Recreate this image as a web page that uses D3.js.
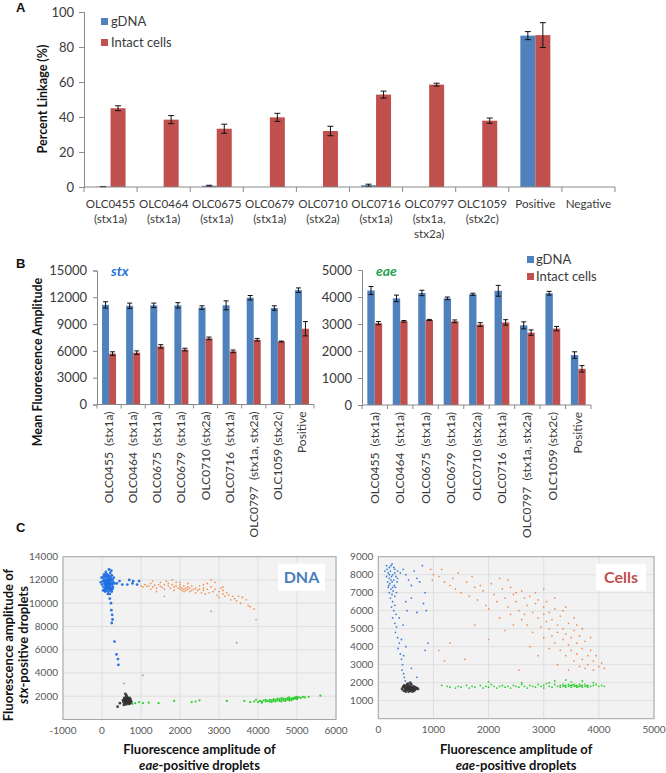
<!DOCTYPE html>
<html><head><meta charset="utf-8">
<script src="https://cdn.jsdelivr.net/npm/d3@7"></script>
<style>
html,body{margin:0;padding:0;background:#fff;}
text{font-family:Lato,"Open Sans",sans-serif;}
</style></head>
<body>
<script>
// ---------------- DATA ----------------
// Panel A
const catsA = ["OLC0455|(stx1a)","OLC0464|(stx1a)","OLC0675|(stx1a)","OLC0679|(stx1a)","OLC0710|(stx2a)","OLC0716|(stx1a)","OLC0797|(stx1a,|stx2a)","OLC1059|(stx2c)","Positive","Negative"];
const gdnaA    = [0.2, 0, 0.7, 0, 0, 1.0, 0, 0, 86.5, 0];
const gdnaErrA = [0.1, 0, 0.3, 0, 0, 0.6, 0, 0, 2.3, 0];
const cellsA    = [45, 38.5, 33.3, 39.8, 32, 52.8, 58.5, 37.9, 86.8, 0];
const cellsErrA = [1.4, 2.3, 2.6, 2.3, 2.7, 2.0, 0.8, 1.5, 7.1, 0];
const ticksA = [0, 20, 40, 60, 80, 100];
const seriesNames = ["gDNA", "Intact cells"];

// Panel B
const catsB = ["OLC0455  (stx1a)","OLC0464  (stx1a)","OLC0675  (stx1a)","OLC0679  (stx1a)","OLC0710 (stx2a)","OLC0716  (stx1a)","OLC0797  (stx1a, stx2a)","OLC1059 (stx2c)","Positive"];
const stxG    = [11150, 11050, 11100, 11100, 10850, 11100, 11950, 10800, 12800];
const stxGErr = [350, 300, 250, 300, 200, 500, 250, 250, 250];
const stxC    = [5700, 5800, 6500, 6150, 7400, 5950, 7250, 7050, 8480];
const stxCErr = [200, 200, 200, 150, 150, 150, 150, 50, 800];
const ticksStx = [0, 3000, 6000, 9000, 12000, 15000];
const eaeG    = [4240, 3950, 4150, 3950, 4100, 4230, 2950, 4140, 1850];
const eaeGErr = [150, 120, 100, 50, 40, 200, 130, 70, 120];
const eaeC    = [3030, 3100, 3150, 3100, 2980, 3060, 2680, 2830, 1340];
const eaeCErr = [60, 30, 20, 50, 70, 100, 100, 80, 120];
const ticksEae = [0, 1000, 2000, 3000, 4000, 5000];

// Panel C (eae amplitude, stx amplitude)
const dnaBlue = [[0,11600],[20,11900],[40,11400],[50,12100],[60,11700],[70,11200],[80,12300],[90,11800],[100,11500],[100,12000],[110,11100],[120,12500],[120,11700],[130,11300],[140,12200],[140,11900],[150,11600],[160,11000],[160,12400],[170,11800],[180,11400],[180,12100],[190,11700],[200,11200],[200,12000],[210,12600],[210,11500],[220,11900],[230,11300],[230,12200],[240,11700],[250,11000],[250,12400],[260,11600],[270,12000],[280,11400],[290,11800],[300,12200],[60,12500],[100,12700],[180,12900],[240,12800],[30,11100],[-30,11800],[150,10800],[80,11000],[200,10800],[260,11200],[130,11500],[170,11200],[110,12300],[190,12300],[150,12100],[90,11300],[220,11100],[60,11900],[270,11300],[320,11700],[-10,12200],[40,12300],[120,11900],[160,11700],[200,11600],[140,11400],[180,11900],[100,11700],[240,12000],[80,11600],[380,11700],[450,11900],[520,11600],[650,11600],[700,12000],[780,11700],[800,11900],[900,11600],[950,11900],[200,10400],[230,10000],[240,9400],[260,9000],[270,8600],[250,8300],[320,6700],[370,5600],[410,5200],[420,4700]];
const dnaOrange = [[1000,11500],[1050,11400],[1100,11600],[1150,11450],[1200,11500],[1250,11700],[1300,11400],[1300,11900],[1350,11550],[1400,11300],[1450,11600],[1500,11450],[1500,11800],[1550,11350],[1600,11600],[1600,11200],[1650,11900],[1700,11500],[1700,11700],[1750,11300],[1800,11600],[1800,12000],[1850,11400],[1850,11100],[1900,11500],[1900,11800],[1950,11300],[2000,11200],[2000,11400],[2000,11600],[2050,11100],[2050,11300],[2100,11200],[2100,11000],[2100,11500],[2150,11300],[2150,11100],[2200,11200],[2200,11400],[2250,11000],[2250,11300],[2300,11100],[2300,11500],[2350,11200],[2400,11300],[2400,10900],[2450,11100],[2500,11500],[2500,11200],[2550,10900],[2600,11300],[2600,11100],[2650,10800],[2700,11200],[2700,11700],[2750,10900],[2800,12000],[2800,11400],[2850,11000],[2900,11200],[2900,11800],[2950,10700],[3000,11000],[3000,10500],[3050,11300],[3100,10800],[3100,11100],[3150,10600],[3200,10900],[3250,10700],[3300,10300],[3350,10600],[3400,10400],[3450,10200],[3500,10600],[3550,10000],[3600,10500],[3700,10300],[3750,9800],[3800,9700],[3900,9500],[3950,8600],[1600,10600],[1250,11200],[2200,11700],[2600,11600],[3100,11400],[2000,11800],[1400,11000]];
const dnaGray = [[2800,9300],[3450,6600],[1050,3800],[560,3100]];
const dnaBlack = [[550,1500],[560,1700],[580,1400],[590,1600],[600,1800],[610,1500],[620,1300],[620,1700],[640,1600],[650,1900],[650,1450],[660,1750],[670,1550],[680,1350],[690,1650],[700,1850],[700,1500],[720,1600],[730,1700],[740,1450],[600,1600],[630,2000],[680,1800],[570,1850],[710,1350],[600,2200],[620,2100],[560,1250],[750,1550],[540,1650],[640,1400],[660,1550],[610,1850],[690,1450],[580,1600],[720,1800],[400,1100],[460,1400]];
const dnaGreen = [[780,1350],[850,1400],[950,1500],[1050,1400],[1200,1450],[1450,1400],[1850,1600],[2300,1500],[2400,1550],[2500,1650],[3200,1600],[3650,1600],[3900,1550],[3950,1700],[4000,1500],[4050,1600],[4100,1550],[4150,1650],[4200,1550],[4250,1600],[4300,1700],[4300,1550],[4350,1650],[4400,1600],[4400,1750],[4450,1550],[4450,1700],[4500,1650],[4500,1800],[4550,1600],[4550,1750],[4600,1700],[4600,1850],[4650,1650],[4650,1800],[4700,1750],[4700,1600],[4750,1850],[4750,1700],[4800,1750],[4800,1900],[4850,1800],[4850,1650],[4900,1850],[4900,1750],[4950,1900],[4950,1800],[5000,1850],[5000,1950],[5050,1900],[5100,1850],[5150,1950],[5200,1900],[5300,1950],[4200,1700],[4350,1500],[4600,1550],[4800,1650],[5000,1750],[4100,1450],[5600,2050],[3800,1500]];

const cellBlue = [[150,8500],[200,8400],[250,8600],[300,8300],[120,8200],[180,8100],[220,8200],[260,8000],[300,8100],[350,8200],[150,7900],[200,7800],[240,7900],[280,7700],[320,7900],[170,7600],[210,7500],[250,7600],[290,7400],[340,7600],[180,7300],[230,7200],[270,7100],[310,7300],[200,7000],[250,6900],[300,6800],[220,6700],[260,6500],[300,6300],[240,6200],[280,6000],[320,5800],[260,5600],[300,5300],[330,5100],[310,4800],[350,4500],[380,4200],[360,3900],[400,3600],[420,3300],[440,3000],[430,2700],[460,2500],[470,2300],[490,2100],[200,8000],[230,7700],[190,7400],[260,7300],[330,7000],[160,8300],[280,8400],[230,8500],[350,7800],[400,8100],[450,8300],[500,8000],[550,7700],[600,7400],[650,8200],[700,7800],[750,7600],[800,8500],[850,7000],[870,6000],[820,6400],[600,6700],[500,6500],[520,6000],[700,5900],[450,5200],[380,5600],[900,4200],[850,3800],[420,4400],[500,4000],[460,3500],[700,2300],[600,2800]];
const cellOrange = [[950,8300],[1000,8000],[980,7700],[1100,7900],[1200,7600],[1300,7400],[1350,7800],[1400,7200],[1500,7000],[1600,7600],[1650,6800],[1700,7900],[1750,7300],[1800,6600],[1900,7100],[1950,6300],[2000,6100],[2050,7500],[2100,6900],[2150,6500],[2200,7800],[2250,7200],[2300,6700],[2350,6200],[2400,7300],[2400,5800],[2450,6900],[2500,6500],[2500,7000],[2550,6000],[2600,7100],[2600,5500],[2650,6700],[2700,6300],[2700,5200],[2750,6800],[2800,5900],[2800,4800],[2850,6400],[2900,5600],[2900,6600],[2950,5100],[3000,6200],[3000,5800],[3000,4500],[3050,5400],[3050,6500],[3100,5000],[3100,5900],[3150,4600],[3150,5500],[3200,6100],[3200,4200],[3250,5200],[3250,4800],[3300,5700],[3300,3800],[3350,4400],[3350,5000],[3400,4700],[3400,3500],[3450,4100],[3450,5300],[3500,3800],[3500,4500],[3550,3200],[3550,4900],[3600,4200],[3600,3600],[3650,2900],[3650,4600],[3700,3900],[3700,3300],[3750,4300],[3750,2800],[3800,3500],[3800,3000],[3850,3800],[3900,3200],[3900,2700],[3950,3500],[4000,2900],[4050,3100],[4100,2800],[3700,5000],[3850,4500],[3550,5600],[3400,6200],[3200,6700],[2850,7000],[2650,5800],[2450,5200],[2300,4900],[2200,5600],[2000,4400],[1750,5200],[1570,3300],[1200,3200],[1100,3800],[1300,4200],[2550,2700],[2900,3500],[3100,3900],[3250,3000],[3450,2700],[2750,4000],[3350,6000],[3600,5200],[3000,7200],[2350,7700],[1850,7400],[1450,8100],[1150,8300]];
const cellGreen = [[1150,1850],[1250,1800],[1300,1750],[1400,1700],[1450,1800],[1500,1750],[1600,1850],[1650,1700],[1700,1800],[1750,1750],[1850,1850],[1900,1700],[1950,1800],[2000,1750],[2050,1900],[2100,1800],[2150,1700],[2200,1800],[2250,1850],[2300,1750],[2350,1800],[2400,1700],[2450,1850],[2500,1800],[2550,1750],[2600,1900],[2650,1800],[2700,1700],[2750,1850],[2800,1800],[2850,1750],[2900,1900],[2950,1800],[3000,1850],[3000,1700],[3050,1950],[3100,1800],[3150,1750],[3200,1900],[3250,1800],[3300,1850],[3300,1750],[3350,1800],[3350,1900],[3400,1850],[3400,1750],[3450,1800],[3450,1900],[3500,1850],[3500,1750],[3550,1800],[3550,1900],[3600,1850],[3600,1750],[3650,1800],[3650,1900],[3700,1850],[3700,1750],[3750,1800],[3750,1900],[3800,1850],[3800,1750],[3850,1800],[3900,1850],[3950,1900],[4000,1800],[4050,1850],[4100,1800],[3200,2100],[3500,2050],[3700,2100],[3100,2000],[2600,2000],[2000,2050],[3900,2000],[3400,2150],[3380,1820],[3480,1830],[3580,1820],[3680,1830],[3780,1820],[3520,1870],[3620,1780]];
const cellBlack = [[430,1650],[450,1750],[460,1550],[470,1850],[480,1700],[490,1600],[500,1800],[500,1500],[510,1700],[520,1900],[530,1600],[540,1750],[550,1500],[550,1850],[560,1650],[570,1800],[580,1550],[590,1700],[600,1900],[600,1600],[610,1750],[620,1500],[630,1650],[640,1800],[650,1700],[660,1600],[670,1750],[680,1650],[700,1700],[520,1650],[570,1650],[610,1650],[540,1950],[580,2000],[460,1800],[720,1650],[500,1650],[550,1700],[600,1750],[650,1550],[530,1800],[590,1550]];

const xTicksDna = [-1000,0,1000,2000,3000,4000,5000,6000];
const yTicksDna = [2000,4000,6000,8000,10000,12000,14000];
const xTicksCell = [0,1000,2000,3000,4000,5000];
const yTicksCell = [1000,2000,3000,4000,5000,6000,7000,8000,9000];

// ---------------- STYLE ----------------
const BLUE = "#4f81bd", RED = "#c0504d", AX = "#898989", TXT = "#3a3a3a";
const svg = d3.select("body").append("svg").attr("width", 666).attr("height", 773);
svg.append("rect").attr("width", 666).attr("height", 773).attr("fill", "#fff");

function panelLabel(t, x, y) {
  svg.append("text").attr("x", x).attr("y", y).text(t)
    .style("font-family", "'Liberation Sans',Arial,sans-serif").style("font-weight", "bold").style("font-size", "13px").attr("fill", "#111");
}
function errBars(g, xs, ys, vals, errs, cap) {
  vals.forEach((v, i) => {
    if (!errs[i]) return;
    const cx = xs(i), y1 = ys(v + errs[i]), y2 = ys(Math.max(0, v - errs[i]));
    g.append("line").attr("x1", cx).attr("x2", cx).attr("y1", y1).attr("y2", y2).attr("stroke", "#111").attr("stroke-width", 1);
    g.append("line").attr("x1", cx - cap).attr("x2", cx + cap).attr("y1", y1).attr("y2", y1).attr("stroke", "#111").attr("stroke-width", 1);
    g.append("line").attr("x1", cx - cap).attr("x2", cx + cap).attr("y1", y2).attr("y2", y2).attr("stroke", "#111").attr("stroke-width", 1);
  });
}
function styleAxis(g, fs) {
  g.select(".domain").attr("stroke", AX);
  g.selectAll(".tick line").attr("stroke", AX);
  g.selectAll(".tick text").attr("fill", TXT).style("font-size", fs).style("font-family", "Lato,sans-serif");
}
function catAxis(g, xs, y0, tickLen) {
  const r = xs.range();
  g.append("line").attr("x1", r[0]).attr("x2", r[1]).attr("y1", y0).attr("y2", y0).attr("stroke", AX);
  d3.range(xs.domain().length + 1).forEach(i => {
    const x = r[0] + i * xs.step();
    g.append("line").attr("x1", x).attr("x2", x).attr("y1", y0).attr("y2", y0 + tickLen).attr("stroke", AX);
  });
}

// ---------------- PANEL A ----------------
panelLabel("A", 16, 12);
{
  const g = svg.append("g");
  const x = d3.scaleBand().domain(catsA).range([84, 615]);
  const sub = d3.scaleBand().domain(seriesNames).range([0, x.bandwidth()]).paddingOuter(0.77);
  const y = d3.scaleLinear().domain([0, 100]).range([187, 12]);
  const ya = g.append("g").attr("transform", "translate(84,0)")
    .call(d3.axisLeft(y).tickValues(ticksA).tickFormat(d3.format("d")).tickSize(5).tickPadding(5));
  styleAxis(ya, "13px");
  [[gdnaA, gdnaErrA, BLUE, seriesNames[0]], [cellsA, cellsErrA, RED, seriesNames[1]]].forEach(([vals, errs, col, nm]) => {
    g.selectAll(null).data(vals).enter().append("rect")
      .attr("x", (d, i) => x(catsA[i]) + sub(nm)).attr("width", sub.bandwidth())
      .attr("y", d => y(d)).attr("height", d => y(0) - y(d)).attr("fill", col);
    errBars(g, i => x(catsA[i]) + sub(nm) + sub.bandwidth() / 2, y, vals, errs, 3);
  });
  catAxis(g, x, 187, 5);
  catsA.forEach(c => {
    const t = g.append("text").attr("x", x(c) + x.bandwidth() / 2).attr("y", 208)
      .attr("text-anchor", "middle").style("font-size", "11.6px").attr("fill", TXT);
    c.split("|").forEach((s, k) => t.append("tspan").attr("x", x(c) + x.bandwidth() / 2).attr("dy", k ? 15 : 0).text(s));
  });
  g.append("text").attr("transform", "translate(47,99) rotate(-90)").attr("text-anchor", "middle")
    .style("font-size", "12.5px").style("font-weight", "bold").attr("fill", "#111").text("Percent Linkage (%)");
  // legend
  [[BLUE, seriesNames[0], 18], [RED, seriesNames[1], 39]].forEach(([col, nm, yy]) => {
    g.append("rect").attr("x", 101).attr("y", yy).attr("width", 7).attr("height", 7).attr("fill", col);
    g.append("text").attr("x", 111).attr("y", yy + 7.5).style("font-size", "13px").attr("fill", TXT).text(nm);
  });
}

// ---------------- PANEL B ----------------
panelLabel("B", 16, 268);
function panelB(x0, x1, yr, vG, eG, vC, eC, ticks, title, tcol) {
  const g = svg.append("g");
  const x = d3.scaleBand().domain(catsB).range([x0, x1]);
  const sub = d3.scaleBand().domain(seriesNames).range([0, x.bandwidth()]).paddingOuter(0.72);
  const y = d3.scaleLinear().domain([0, ticks[ticks.length - 1]]).range(yr);
  const ya = g.append("g").attr("transform", `translate(${x0},0)`)
    .call(d3.axisLeft(y).tickValues(ticks).tickFormat(d3.format("d")).tickSize(4).tickPadding(6));
  styleAxis(ya, "13px");
  [[vG, eG, BLUE, seriesNames[0]], [vC, eC, RED, seriesNames[1]]].forEach(([vals, errs, col, nm]) => {
    g.selectAll(null).data(vals).enter().append("rect")
      .attr("x", (d, i) => x(catsB[i]) + sub(nm)).attr("width", sub.bandwidth())
      .attr("y", d => y(d)).attr("height", d => y(0) - y(d)).attr("fill", col);
    errBars(g, i => x(catsB[i]) + sub(nm) + sub.bandwidth() / 2, y, vals, errs, 2.5);
  });
  catAxis(g, x, yr[0], 4);
  catsB.forEach(c => {
    g.append("text").attr("transform", `translate(${x(c) + x.bandwidth() / 2 + 4},${yr[0] + 7}) rotate(-90)`)
      .attr("text-anchor", "end").attr("xml:space", "preserve").style("font-size", "12px").attr("fill", TXT).text(c);
  });
  g.append("text").attr("x", x0 + 14).attr("y", 276).style("font-size", "14px").style("font-style", "italic")
    .style("font-weight", "bold").attr("fill", tcol).text(title);
}
panelB(97, 314, [404.5, 270.5], stxG, stxGErr, stxC, stxCErr, ticksStx, "stx", "#2673d9");
panelB(362, 591, [405, 270], eaeG, eaeGErr, eaeC, eaeCErr, ticksEae, "eae", "#1fa24e");
svg.append("text").attr("transform", "translate(42,362) rotate(-90)").attr("text-anchor", "middle")
  .style("font-size", "12.5px").style("font-weight", "bold").attr("fill", "#111").text("Mean Fluorescence Amplitude");
[[BLUE, seriesNames[0], 256], [RED, seriesNames[1], 273]].forEach(([col, nm, yy]) => {
  svg.append("rect").attr("x", 527).attr("y", yy).attr("width", 7).attr("height", 7).attr("fill", col);
  svg.append("text").attr("x", 536).attr("y", yy + 7.5).style("font-size", "13px").attr("fill", TXT).text(nm);
});

// ---------------- PANEL C ----------------
panelLabel("C", 16, 532);
function scatter(xr, yr, xd, yd, xt, yt, groups, boxText, boxCol, boxX) {
  const g = svg.append("g");
  const x = d3.scaleLinear().domain(xd).range(xr);
  const y = d3.scaleLinear().domain(yd).range(yr);
  g.append("rect").attr("x", xr[0]).attr("y", yr[1]).attr("width", xr[1] - xr[0]).attr("height", yr[0] - yr[1])
    .attr("fill", "#f2f2f2");
  xt.forEach(v => g.append("line").attr("x1", x(v)).attr("x2", x(v)).attr("y1", yr[0]).attr("y2", yr[1]).attr("stroke", "#dadada").attr("stroke-width", 0.8));
  yt.forEach(v => g.append("line").attr("y1", y(v)).attr("y2", y(v)).attr("x1", xr[0]).attr("x2", xr[1]).attr("stroke", "#dadada").attr("stroke-width", 0.8));
  g.append("rect").attr("x", xr[0]).attr("y", yr[1]).attr("width", xr[1] - xr[0]).attr("height", yr[0] - yr[1])
    .attr("fill", "none").attr("stroke", "#a6a6a6");
  groups.forEach(([pts, col, r, op]) => {
    g.selectAll(null).data(pts).enter().append("circle")
      .attr("cx", d => x(d[0])).attr("cy", d => y(d[1])).attr("r", r).attr("fill", col).attr("fill-opacity", op);
  });
  xt.forEach(v => g.append("text").attr("x", x(v)).attr("y", yr[0] + 14).attr("text-anchor", "middle")
    .style("font-size", "10px").attr("fill", "#595959").text(v));
  yt.forEach(v => g.append("text").attr("x", xr[0] - 5).attr("y", y(v) + 3.5).attr("text-anchor", "end")
    .style("font-size", "10px").attr("fill", "#595959").text(v));
  g.append("rect").attr("x", boxX).attr("y", yr[1] + 7).attr("width", boxText === "DNA" ? 47 : 50).attr("height", 27).attr("fill", "#fff");
  g.append("text").attr("x", boxX + (boxText === "DNA" ? 23.5 : 25)).attr("y", yr[1] + 26).attr("text-anchor", "middle")
    .style("font-size", "16px").style("font-weight", "bold").attr("fill", boxCol).text(boxText);
  const cx = (xr[0] + xr[1]) / 2;
  g.append("text").attr("x", cx).attr("y", 754).attr("text-anchor", "middle").style("font-size", "13px")
    .style("font-weight", "bold").attr("fill", "#111").text("Fluorescence amplitude of");
  const t2 = g.append("text").attr("x", cx).attr("y", 770).attr("text-anchor", "middle").style("font-size", "13px")
    .style("font-weight", "bold").attr("fill", "#111");
  t2.append("tspan").style("font-style", "italic").text("eae");
  t2.append("tspan").text("-positive droplets");
}
scatter([63, 336], [719.5, 556.7], [-1000, 6000], [0, 14000], xTicksDna, yTicksDna,
  [[dnaOrange, "#f0823a", 0.85, 0.9], [dnaGray, "#8a9a8a", 0.9, 0.9], [dnaGreen, "#22cc22", 1.1, 0.95],
   [dnaBlack, "#333", 1.4, 0.9], [dnaBlue, "#1f6fe0", 1.4, 0.95]], "DNA", "#4a7ebb", 278);
scatter([378.3, 654], [718.7, 556.7], [0, 5000], [0, 9000], xTicksCell, yTicksCell,
  [[cellOrange, "#f0823a", 0.85, 0.9], [cellGreen, "#22cc22", 0.9, 0.95],
   [cellBlue, "#2f78d8", 0.9, 0.95], [cellBlack, "#333", 1.4, 0.9]], "Cells", "#c0504d", 596);
{
  svg.append("text").attr("transform", "translate(13,645) rotate(-90)").attr("text-anchor", "middle")
    .style("font-size", "13px").style("font-weight", "bold").attr("fill", "#111").text("Fluorescence amplitude of");
  const t2 = svg.append("text").attr("transform", "translate(28,645) rotate(-90)").attr("text-anchor", "middle")
    .style("font-size", "13px").style("font-weight", "bold").attr("fill", "#111");
  t2.append("tspan").style("font-style", "italic").text("stx");
  t2.append("tspan").text("-positive droplets");
}
</script>
</body></html>
